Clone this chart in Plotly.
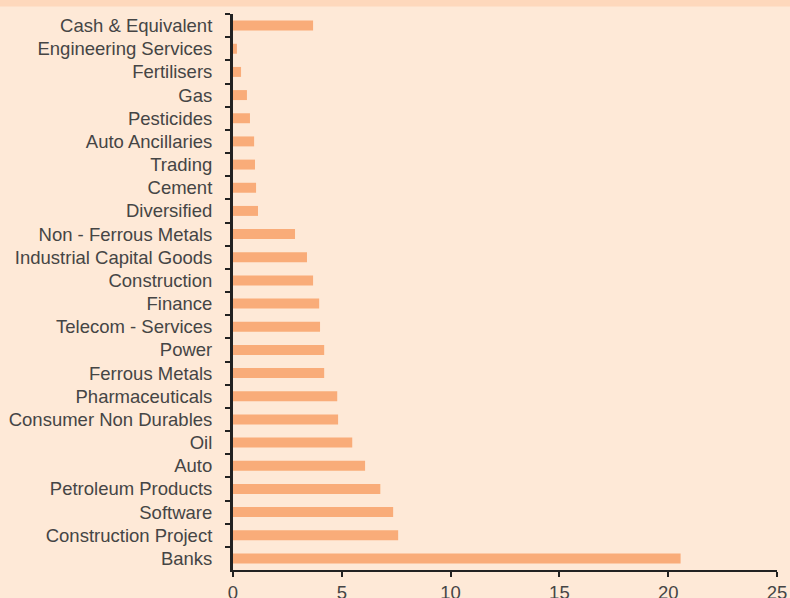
import plotly.graph_objects as go

categories = [
    "Cash & Equivalent", "Engineering Services", "Fertilisers", "Gas", "Pesticides",
    "Auto Ancillaries", "Trading", "Cement", "Diversified", "Non - Ferrous Metals",
    "Industrial Capital Goods", "Construction", "Finance", "Telecom - Services",
    "Power", "Ferrous Metals", "Pharmaceuticals", "Consumer Non Durables", "Oil",
    "Auto", "Petroleum Products", "Software", "Construction Project", "Banks",
]
values = [
    3.68, 0.18, 0.37, 0.64, 0.78,
    0.97, 1.01, 1.06, 1.15, 2.85,
    3.40, 3.68, 3.96, 4.00,
    4.19, 4.19, 4.79, 4.83, 5.48,
    6.07, 6.77, 7.36, 7.59, 20.57,
]
x_ticks = [0, 5, 10, 15, 20, 25]

W, H = 790, 598
ml, mr, mt, mb = 233, 13, 13.5, 28
pw, ph = W - ml - mr, H - mt - mb

fig = go.Figure(go.Bar(
    x=values, y=categories, orientation="h",
    marker=dict(color="#f9ac79", line=dict(width=0)),
    hoverinfo="x+y",
))

fig.update_layout(
    width=W, height=H,
    margin=dict(l=ml, r=mr, t=mt, b=mb, pad=0, autoexpand=False),
    paper_bgcolor="#fee9d7", plot_bgcolor="#fee9d7",
    font=dict(family="Liberation Sans, Arial, sans-serif", size=18.5, color="#454545"),
    bargap=0.57,
    showlegend=False,
    shapes=[dict(
        type="rect", xref="paper", yref="paper", layer="below",
        x0=-ml / pw, x1=1 + mr / pw,
        y0=1 + (mt - 6) / ph, y1=1 + mt / ph + 0.01,
        fillcolor="#fed8bc", line=dict(width=0),
    )],
)
fig.update_xaxes(
    range=[0, 25], tickvals=x_ticks, showgrid=False, zeroline=False,
    showline=True, linecolor="#222222", linewidth=2,
    ticks="outside", ticklen=5, tickwidth=2, tickcolor="#222222",
    ticklabelstandoff=0, automargin=False,
)
fig.update_yaxes(
    autorange="reversed", showgrid=False, zeroline=False,
    showline=True, linecolor="#222222", linewidth=3,
    ticks="outside", ticklen=5, tickwidth=2, tickcolor="#222222",
    tickson="boundaries", ticklabelstandoff=14, automargin=False,
)

fig.write_html(
    "out.html",
    config={"displayModeBar": False},
    post_script="document.body.style.margin='0';document.body.style.overflow='hidden';",
)
